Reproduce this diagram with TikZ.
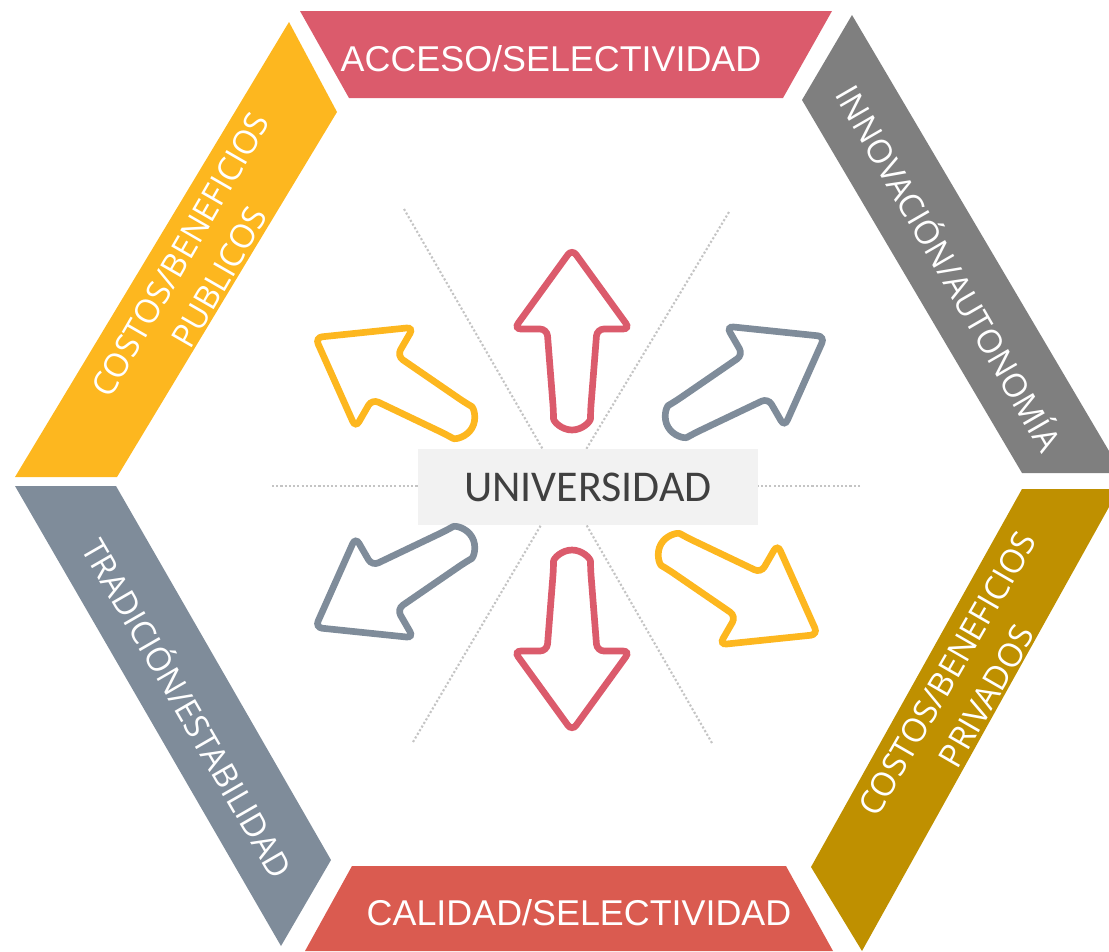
\documentclass[tikz,border=0pt]{standalone}
\usepackage{fontspec}
\setmainfont{Liberation Sans}
\newfontfamily\bandfont{Open Sans}
\newfontfamily\hubfont{Carlito}

\begin{document}
\begin{tikzpicture}[x=0.01cm, y=-0.01cm,
  guide/.style={draw=guidegray, line width=0.6pt, dash pattern=on 0.6pt off 0.6pt},
  outline/.style={line width=1.9pt, rounded corners=2pt},
  pics/outarrow/.style={code={
    \draw[outline, draw=#1] (181,0) -- (101,-58) -- (101,-25) -- (18.5,-18.5)
      arc[start angle=-90, end angle=-270, radius=18.5]
      -- (101,25) -- (101,58) -- cycle;
  }},
  bandlabel/.style={text=white, font=\bandfont\fontsize{9.4}{12.8}\selectfont, align=center},
  edgelabel/.style={text=white, font=\fontsize{10.2}{12}\selectfont, anchor=base}]

\definecolor{accessred}{HTML}{DB5B6C}
\definecolor{qualityred}{HTML}{DA5B50}
\definecolor{publicyellow}{HTML}{FDB71F}
\definecolor{innovgray}{HTML}{7F7F7F}
\definecolor{tradslate}{HTML}{7F8C9A}
\definecolor{privategold}{HTML}{BF9000}
\definecolor{hubgray}{HTML}{F2F2F2}
\definecolor{hubtext}{HTML}{404040}
\definecolor{guidegray}{HTML}{C4C4C4}

\useasboundingbox (0,0) rectangle (1109,951);

% Hexagon bands
\fill[accessred] (300,11) -- (832,11) -- (783,98) -- (349,98) -- cycle;
\fill[innovgray] (852,15) -- (1109,451) -- (1109,473) -- (1022,473) -- (802,100) -- cycle;
\fill[privategold] (1022,489) -- (1109,489) -- (1109,507) -- (862,951) -- (811,867) -- cycle;
\fill[qualityred] (352,866) -- (786,866) -- (833,951) -- (305,951) -- cycle;
\fill[tradslate] (15,486) -- (116,486) -- (331,860) -- (281,946) -- cycle;
\fill[publicyellow] (289,22) -- (337,112) -- (117,477) -- (15,477) -- cycle;

% Band labels
\node[edgelabel] (acc) at (551,71) {ACCESO/SELECTIVIDAD};
\node[edgelabel] (cal) at (579,925) {CALIDAD/SELECTIVIDAD};
\node[bandlabel, rotate=60] (pub) at (200,266) {COSTOS/BENEFICIOS\\PUBLICOS};
\node[bandlabel, rotate=-60] (inn) at (951,267) {INNOVACIÓN/AUTONOMÍA};
\node[bandlabel, rotate=-60] (tra) at (190,707) {TRADICIÓN/ESTABILIDAD};
\node[bandlabel, rotate=60] (pri) at (967,685) {COSTOS/BENEFICIOS\\PRIVADOS};

% Guide lines
\coordinate (ctr) at (564,486);
\coordinate (gw) at (272,486);
\coordinate (ge) at (860,486);
\coordinate (gnw) at (404,209);
\coordinate (gne) at (729,212);
\coordinate (gsw) at (413,742);
\coordinate (gse) at (712,743);
\foreach \g in {gw,ge,gnw,gne,gsw,gse}
  \draw[guide] (\g) -- (ctr);

% Core
\node[fill=hubgray, text=hubtext, inner sep=0pt, minimum width=3.4cm, minimum height=0.75cm,
  font=\hubfont\fontsize{12.5}{15}\selectfont] (univ) at (588,487) {UNIVERSIDAD};

% Outgoing arrows
\pic[rotate=90] at (572,430) {outarrow=accessred};
\pic[rotate=-90] at (572,550) {outarrow=accessred};
\pic[rotate=30] at (668,427) {outarrow=tradslate};
\pic[rotate=210] at (472,537) {outarrow=tradslate};
\pic[rotate=150] at (472,428) {outarrow=publicyellow};
\pic[rotate=-30] at (661,544) {outarrow=publicyellow};

\end{tikzpicture}
\end{document}
